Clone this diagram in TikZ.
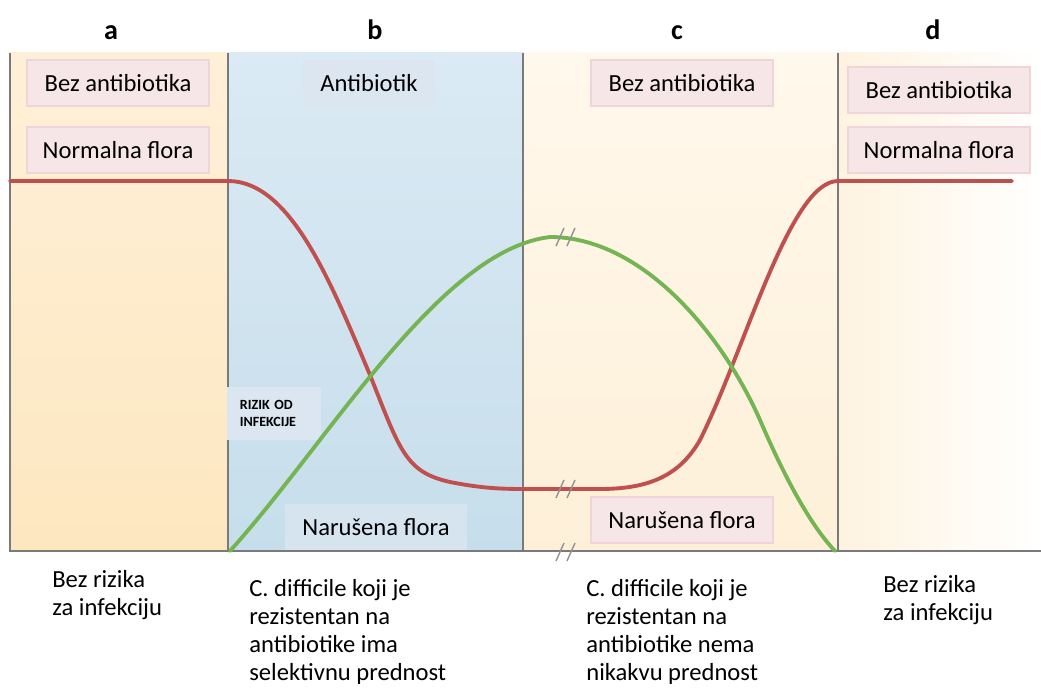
\documentclass[tikz,border=0pt]{standalone}
\usepackage{fontspec}
\setmainfont{Carlito}
\usepackage{tikz}
\usetikzlibrary{positioning}

\definecolor{floraRed}{HTML}{C0504D}
\definecolor{riskGreen}{HTML}{74B452}
\definecolor{frameGray}{HTML}{7A7A7A}
\definecolor{tagPink}{HTML}{F6E6E7}
\definecolor{tagEdge}{HTML}{EFD5D7}
\definecolor{tagBlue}{HTML}{DCE6F1}
\definecolor{tagBlueB}{HTML}{D6E4EF}
\definecolor{aLow}{HTML}{FDE7C0}
\definecolor{aHigh}{HTML}{FEF0D8}
\definecolor{bLow}{HTML}{C6DEEB}
\definecolor{bHigh}{HTML}{DBEAF4}
\definecolor{cLow}{HTML}{FEF0D8}
\definecolor{cHigh}{HTML}{FFF8EC}
\definecolor{dLeft}{HTML}{FEF3E0}

\begin{document}
\begin{tikzpicture}[x=0.02cm, y=-0.02cm,
    tag/.style={rectangle, minimum width=3.64cm, minimum height=0.92cm, text centered, draw=tagEdge, line width=1pt, fill=tagPink, font=\fontsize{14}{16}\selectfont},
    bluetag/.style={tag, draw=none, fill=tagBlue},
    panel/.style={anchor=base, font=\fontsize{16}{19}\selectfont\bfseries},
    note/.style={anchor=north west, align=left, inner sep=0pt, font=\fontsize{14}{16}\selectfont},
    frame/.style={draw=frameGray, line width=1pt},
    curve/.style={line width=2.2pt, line cap=round},
    brk/.style={draw=gray!85, line width=0.8pt}
]

\useasboundingbox (0,0) rectangle (1041,688);

% PANELS
\shade[bottom color=aLow, top color=aHigh] (10,53) rectangle (228,551);
\shade[bottom color=bLow, top color=bHigh] (228,53) rectangle (523,551);
\shade[bottom color=cLow, top color=cHigh] (523,53) rectangle (838,551);
\shade[left color=dLeft, right color=white] (838,53) rectangle (1041,551);

% Frame and dividers
\draw[frame] (10,53) -- (10,551) -- (1041,551);
\foreach \x in {228,523,838}
    \draw[frame] (\x,53) -- (\x,551);

% Panel letters
\foreach \x/\t in {111/a,375/b,677/c,933/d}
    \node[panel] (head\t) at (\x,40) {\t};

% LABELS IN PANELS
\node[tag] (noAbA) at (118,83) {Bez antibiotika};
\node[tag] (floraA) at (118,150) {Normalna flora};
\node[bluetag, minimum width=2.64cm] (abB) at (369,83) {Antibiotik};
\node[tag] (noAbC) at (682,83) {Bez antibiotika};
\node[tag] (noAbD) at (939,90) {Bez antibiotika};
\node[tag] (floraD) at (939,150) {Normalna flora};

\node[bluetag, anchor=north west, minimum width=1.84cm, text width=1.36cm, inner xsep=0.26cm, minimum height=1.06cm, align=left, font=\fontsize{8}{9.6}\selectfont\bfseries] (risk) at (226,386) {RIZIK OD\\INFEKCIJE};

\node[bluetag, fill=tagBlueB] (damagedB) at (376,527) {Narušena flora};
\node[tag] (damagedC) at (682,520) {Narušena flora};

% CURVES
% Normal flora
\draw[curve, floraRed] (10,181) -- (228,181)
    .. controls (290,181) and (330,280) .. (370,375)
    .. controls (400,450) and (405,472) .. (450,482)
    .. controls (480,488) and (500,489) .. (523,489)
    -- (600,489)
    .. controls (650,489) and (680,475) .. (700,440)
    .. controls (745,350) and (790,181) .. (838,181)
    -- (1012,181);

% Risk of infection
\draw[curve, riskGreen] (230,551)
    .. controls (330,440) and (440,250) .. (550,237)
    .. controls (640,237) and (720,330) .. (760,420)
    .. controls (790,490) and (815,530) .. (835,551);

% Breaks in time axis
\foreach \y in {237,489,552}
    \foreach \x in {560,571}
        \draw[brk] (\x-4,\y+9) -- (\x+4,\y-9);

% NOTES UNDER PANELS
\node[note] (riskA) at (52,570) {Bez rizika\\za infekciju};
\node[note] (riskB) at (249,579) {C. difficile koji je\\rezistentan na\\antibiotike ima\\selektivnu prednost};
\node[note] (riskC) at (586,579) {C. difficile koji je\\rezistentan na\\antibiotike nema\\nikakvu prednost};
\node[note] (riskD) at (883,575) {Bez rizika\\za infekciju};

\end{tikzpicture}
\end{document}
